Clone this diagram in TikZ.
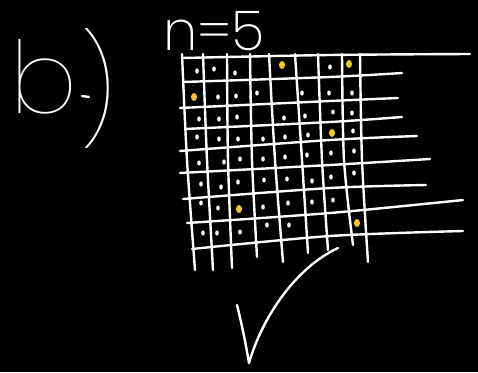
\documentclass[tikz,border=0pt]{standalone}
\usepackage{fontspec}
\newfontfamily\chalkfont{Poppins}[UprightFont={* Thin}]
\newfontfamily\chalkfontb{Poppins}[UprightFont={* ExtraLight}]
\usepackage{tikz}
\usetikzlibrary{calc}
\definecolor{chalkyellow}{RGB}{245,200,30}
\tikzset{chalk/.style={white,line width=2.4pt,line cap=round,line join=round}}

\begin{document}
\begin{tikzpicture}[x=1pt,y=-1pt]
\fill[black] (0,0) rectangle (478,372);
\useasboundingbox (0,0) rectangle (478,372);
\node[white, anchor=base west, inner sep=0, font=\chalkfont\fontsize{100}{100}\selectfont] (label) at (10,113) {b\hspace{2pt}\raisebox{-15pt}{\fontsize{107}{107}\selectfont)}};
\node[white, anchor=base, inner sep=0, font=\chalkfontb\fontsize{55}{55}\selectfont] (size) at (214,50) {n=5};
\draw[chalk] (82,96) -- (89,97);
\foreach \xa/\ya/\yb/\xc/\yc in {182/58/55/470/54, 183/82/77/402/73, 180/108/101/398/98, 185/129/122/402/117, 180/151/140/417/136, 180/173/165/430/159, 183/199/188/426/185, 187/223/213/463/200, 192/249/236/463/231} {
  \draw[chalk] plot[smooth] coordinates {(\xa,\ya) (330,\yb) (\xc,\yc)};
}
\foreach \xa/\xm/\xb/\yb in {182/187/195/270, 203/207/213/270, 227/228/232/268, 250/252/257/257, 269/275/283/262, 295/302/308/253, 318/322/328/250, 342/344/353/245, 360/362/368/262} {
  \draw[chalk] plot[smooth] coordinates {(\xa,54) (\xm,160) (\xb,\yb)};
}
\foreach \x/\y in {197/71, 214/69, 235/73, 330/67,
  218/97, 236/96, 257/93, 302/93, 329/93, 352/93,
  199/119, 219/119, 237/117, 284/118, 305/116, 333/112, 352/113,
  197/137, 219/139, 238/139, 263/139, 285/137, 308/135, 353/131,
  199/163, 224/162, 240/159, 263/159, 285/157, 307/155, 331/153, 354/151,
  201/184, 221/187, 238/182, 264/180, 287/179, 312/181, 331/177, 354/173,
  201/203, 218/208, 263/207, 288/203, 312/202, 333/200,
  203/233, 217/233, 240/232, 267/225, 289/225} {
  \fill[white] (\x,\y) ellipse (1.8 and 2.6);
}
\foreach \x/\y in {282/65, 349/64, 194/97, 332/133, 239/209, 357/223} {
  \fill[chalkyellow] (\x,\y) ellipse (3 and 4);
}
\draw[chalk] (237,305) .. controls (242,325) and (246,345) .. (249,363)
  .. controls (262,318) and (295,268) .. (338,248);
\end{tikzpicture}
\end{document}
